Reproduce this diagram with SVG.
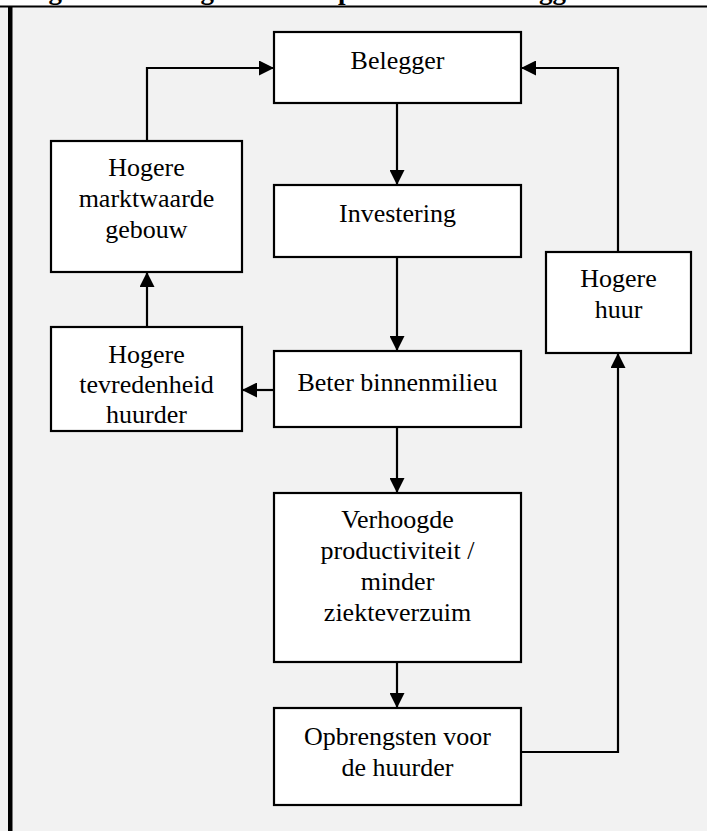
<svg xmlns="http://www.w3.org/2000/svg" width="707" height="831" viewBox="0 0 707 831">
  <style>
    .box { fill: #ffffff; stroke: #000000; stroke-width: 2.2; }
    .lbl { font-family: "Liberation Serif", "Times New Roman", serif; font-size: 26px; fill: #000000; text-anchor: middle; }
    .title { font-family: "Liberation Serif", "Times New Roman", serif; font-size: 27px; font-weight: bold; fill: #000000; }
    .wire { fill: none; stroke: #000000; stroke-width: 2.2; }
  </style>
  <defs>
    <marker id="arrow" viewBox="0 0 15 15" refX="15" refY="7.5" markerWidth="15" markerHeight="15" markerUnits="userSpaceOnUse" orient="auto">
      <path d="M0,0 L15,7.5 L0,15 Z" fill="#000000"/>
    </marker>
  </defs>

  <!-- page background and frame -->
  <rect x="0" y="0" width="707" height="831" fill="#ffffff"/>
  <rect x="0" y="6.5" width="707" height="824.5" fill="#f2f2f2"/>
  <text class="title" x="262" y="-1" text-anchor="end">Figuur 1: Weergave:</text>
  <text class="title" x="266" y="-1">Conceptueel model belegger en huurder</text>
  <rect x="0" y="5.5" width="707" height="2" fill="#000000"/>
  <rect x="8" y="6.5" width="4.5" height="824.5" fill="#000000"/>

  <!-- connectors -->
  <g id="connectors">
    <path class="wire" d="M397,103 V185" marker-end="url(#arrow)"/>
    <path class="wire" d="M397,257 V351" marker-end="url(#arrow)"/>
    <path class="wire" d="M397,427 V493" marker-end="url(#arrow)"/>
    <path class="wire" d="M397,662 V708" marker-end="url(#arrow)"/>
    <path class="wire" d="M521,752 H618 V353" marker-end="url(#arrow)"/>
    <path class="wire" d="M618,252 V68 H521" marker-end="url(#arrow)"/>
    <path class="wire" d="M274,390 H242" marker-end="url(#arrow)"/>
    <path class="wire" d="M147,327 V272" marker-end="url(#arrow)"/>
    <path class="wire" d="M147,141 V68 H274" marker-end="url(#arrow)"/>
  </g>

  <!-- nodes -->
  <g id="belegger">
    <rect class="box" x="274" y="32" width="247" height="71"/>
    <text class="lbl" x="397.5" y="69">Belegger</text>
  </g>
  <g id="investering">
    <rect class="box" x="274" y="185" width="247" height="72"/>
    <text class="lbl" x="397.5" y="222">Investering</text>
  </g>
  <g id="beter-binnenmilieu">
    <rect class="box" x="274" y="351" width="247" height="76"/>
    <text class="lbl" x="397.5" y="391">Beter binnenmilieu</text>
  </g>
  <g id="verhoogde-productiviteit">
    <rect class="box" x="274" y="493" width="247" height="169"/>
    <text class="lbl" x="397.5" y="528">Verhoogde</text>
    <text class="lbl" x="397.5" y="559">productiviteit /</text>
    <text class="lbl" x="397.5" y="590">minder</text>
    <text class="lbl" x="397.5" y="621">ziekteverzuim</text>
  </g>
  <g id="opbrengsten-huurder">
    <rect class="box" x="274" y="708" width="247" height="97"/>
    <text class="lbl" x="397.5" y="745">Opbrengsten voor</text>
    <text class="lbl" x="397.5" y="776">de huurder</text>
  </g>
  <g id="hogere-huur">
    <rect class="box" x="546" y="252" width="145" height="101"/>
    <text class="lbl" x="618.5" y="287">Hogere</text>
    <text class="lbl" x="618.5" y="318">huur</text>
  </g>
  <g id="hogere-marktwaarde">
    <rect class="box" x="51" y="141" width="191" height="131"/>
    <text class="lbl" x="146.5" y="176">Hogere</text>
    <text class="lbl" x="146.5" y="207">marktwaarde</text>
    <text class="lbl" x="146.5" y="238">gebouw</text>
  </g>
  <g id="hogere-tevredenheid">
    <rect class="box" x="51" y="327" width="191" height="104"/>
    <text class="lbl" x="146.5" y="363">Hogere</text>
    <text class="lbl" x="146.5" y="393">tevredenheid</text>
    <text class="lbl" x="146.5" y="423">huurder</text>
  </g>
</svg>
